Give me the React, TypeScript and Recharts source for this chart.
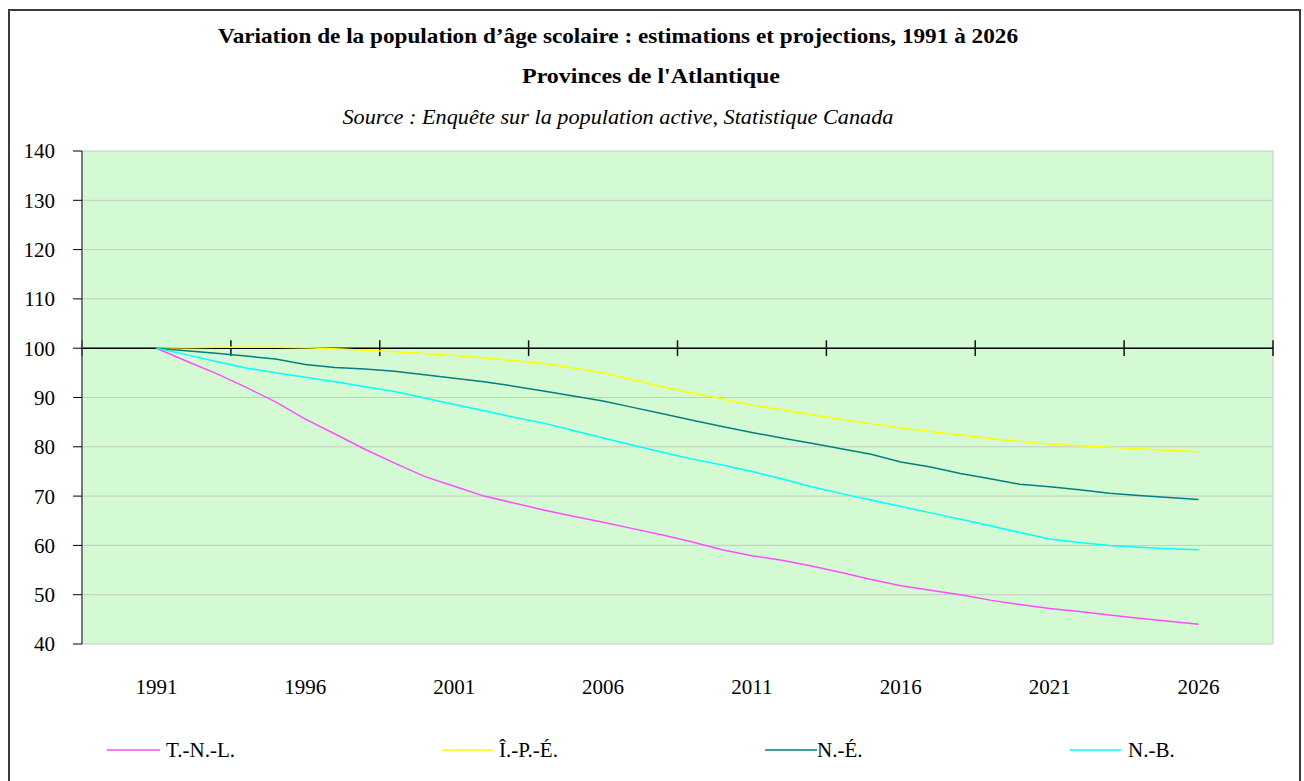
import { CartesianGrid, Legend, Line, LineChart, ReferenceLine, XAxis, YAxis } from "recharts";

const FONT = "Liberation Serif, Times New Roman, Tinos, DejaVu Serif, serif";

// one point per year, index 1991 = 100
const YEARS = [
  1991, 1992, 1993, 1994, 1995, 1996, 1997, 1998, 1999, 2000, 2001, 2002,
  2003, 2004, 2005, 2006, 2007, 2008, 2009, 2010, 2011, 2012, 2013, 2014,
  2015, 2016, 2017, 2018, 2019, 2020, 2021, 2022, 2023, 2024, 2025, 2026,
];
const TNL = [
  100, 97.4, 94.9, 92.1, 89.1, 85.6, 82.6, 79.5, 76.7, 74.0, 72.0, 70.0,
  68.6, 67.2, 65.9, 64.7, 63.4, 62.1, 60.7, 59.1, 57.9, 57.0, 55.8, 54.5,
  53.1, 51.8, 50.9, 50.0, 48.9, 48.0, 47.2, 46.6, 45.9, 45.2, 44.6, 44.0,
];
const IPE = [
  100, 100.1, 100.2, 100.2, 100.2, 100.1, 99.9, 99.6, 99.3, 98.9, 98.5, 98.0,
  97.5, 96.9, 96.0, 95.0, 93.6, 92.2, 90.9, 89.7, 88.5, 87.5, 86.5, 85.6,
  84.7, 83.8, 83.1, 82.4, 81.7, 81.1, 80.5, 80.2, 79.9, 79.6, 79.3, 79.0,
];
const NE = [
  100, 99.5, 99.0, 98.4, 97.8, 96.7, 96.1, 95.8, 95.3, 94.6, 93.9, 93.2,
  92.3, 91.3, 90.3, 89.3, 88.0, 86.7, 85.4, 84.1, 82.9, 81.8, 80.7, 79.6,
  78.5, 76.9, 75.9, 74.6, 73.5, 72.4, 71.9, 71.3, 70.6, 70.1, 69.7, 69.3,
];
const NB = [
  100, 98.7, 97.3, 96.0, 95.0, 94.1, 93.2, 92.2, 91.2, 89.9, 88.6, 87.3,
  86.0, 84.8, 83.3, 81.8, 80.3, 78.9, 77.5, 76.3, 75.0, 73.5, 71.9, 70.5,
  69.2, 67.9, 66.6, 65.3, 64.0, 62.6, 61.3, 60.6, 60.0, 59.6, 59.3, 59.1,
];

const YEAR_TICKS = [1991, 1996, 2001, 2006, 2011, 2016, 2021, 2026];
// limites des colonnes (grille verticale + petites marques sur l'axe à 100)
const BAND_EDGES = [1988.5, 1993.5, 1998.5, 2003.5, 2008.5, 2013.5, 2018.5, 2023.5, 2028.5];
const Y_TICKS = [40, 50, 60, 70, 80, 90, 100, 110, 120, 130, 140];

const SERIES = [
  { key: "tnl", name: "T.-N.-L.", color: "#ff4cff", legendX: 97, lineW: 53, gap: 6 },
  { key: "ipe", name: "Î.-P.-É.", color: "#ffff00", legendX: 432, lineW: 51, gap: 6 },
  { key: "ne", name: "N.-É.", color: "#008080", legendX: 755, lineW: 52, gap: 0 },
  { key: "nb", name: "N.-B.", color: "#00ffff", legendX: 1060, lineW: 51, gap: 7 },
];

const data = YEARS.map((year, i) => ({ year, tnl: TNL[i], ipe: IPE[i], ne: NE[i], nb: NB[i] }));

const W = 1289;
const H = 770;

function LegendRow() {
  return (
    <div style={{ position: "relative", width: W, height: 30, fontFamily: FONT, fontSize: 21, color: "#000" }}>
      {SERIES.map((s) => (
        <div
          key={s.key}
          style={{ position: "absolute", left: s.legendX, top: 0, height: 30, display: "flex", alignItems: "center" }}
        >
          <svg width={s.lineW} height={4} style={{ display: "block" }}>
            <line x1={0} y1={2} x2={s.lineW} y2={2} stroke={s.color} strokeWidth={1.5} />
          </svg>
          <span style={{ marginLeft: s.gap, whiteSpace: "nowrap" }}>{s.name}</span>
        </div>
      ))}
    </div>
  );
}

export default function App() {
  return (
    <div
      style={{
        position: "absolute",
        left: 8,
        top: 9,
        width: W,
        height: H,
        borderTop: "2px solid #3a3a3a",
        borderLeft: "2px solid #3a3a3a",
        borderRight: "2px solid #3a3a3a",
        background: "#fff",
        fontFamily: FONT,
      }}
    >
      <svg
        width={W}
        height={130}
        style={{ position: "absolute", left: 0, top: 0, pointerEvents: "none", zIndex: 2, fontFamily: FONT }}
      >
        <text x={608} y={32} textAnchor="middle" fontSize={21} fontWeight="bold" textLength={800} lengthAdjust="spacingAndGlyphs">
          Variation de la population d’âge scolaire : estimations et projections, 1991 à 2026
        </text>
        <text x={641} y={72} textAnchor="middle" fontSize={21} fontWeight="bold" textLength={258} lengthAdjust="spacingAndGlyphs">
          Provinces de l'Atlantique
        </text>
        <text x={608} y={113} textAnchor="middle" fontSize={20} fontStyle="italic" textLength={551} lengthAdjust="spacingAndGlyphs">
          Source : Enquête sur la population active, Statistique Canada
        </text>
      </svg>
      <LineChart width={W} height={H} data={data} margin={{ top: 140, right: 26, bottom: 16, left: 0 }} style={{ fontFamily: FONT }}>
        <CartesianGrid xAxisId="band" stroke="#c8c8c8" fill="#d4fad4" />
        <XAxis
          xAxisId="year"
          dataKey="year"
          type="number"
          domain={[1988.5, 2028.5]}
          ticks={YEAR_TICKS}
          interval={0}
          axisLine={false}
          tickLine={false}
          tickSize={0}
          tickMargin={5}
          height={91}
          tick={{ fill: "#000", fontSize: 21, fontFamily: FONT }}
        />
        <XAxis xAxisId="band" type="number" domain={[1988.5, 2028.5]} ticks={BAND_EDGES} interval={0} hide />
        <YAxis
          domain={[40, 140]}
          ticks={Y_TICKS}
          interval={0}
          width={72}
          axisLine={{ stroke: "#555", strokeWidth: 1.5 }}
          tickLine={{ stroke: "#000" }}
          tickSize={9}
          tickMargin={18}
          tick={{ fill: "#000", fontSize: 21, fontFamily: FONT }}
        />
        <ReferenceLine xAxisId="year" y={100} stroke="#000" strokeWidth={1.5} />
        {BAND_EDGES.map((e) => (
          <ReferenceLine
            key={e}
            xAxisId="year"
            segment={[
              { x: e, y: 101.6 },
              { x: e, y: 98.4 },
            ]}
            stroke="#111"
            strokeWidth={1.5}
          />
        ))}
        {SERIES.map((s) => (
          <Line
            key={s.key}
            xAxisId="year"
            type="linear"
            dataKey={s.key}
            name={s.name}
            stroke={s.color}
            strokeWidth={1.5}
            dot={false}
            activeDot={false}
            isAnimationActive={false}
          />
        ))}
        <Legend verticalAlign="bottom" content={() => <LegendRow />} wrapperStyle={{ left: 0, width: W }} />
      </LineChart>
    </div>
  );
}
